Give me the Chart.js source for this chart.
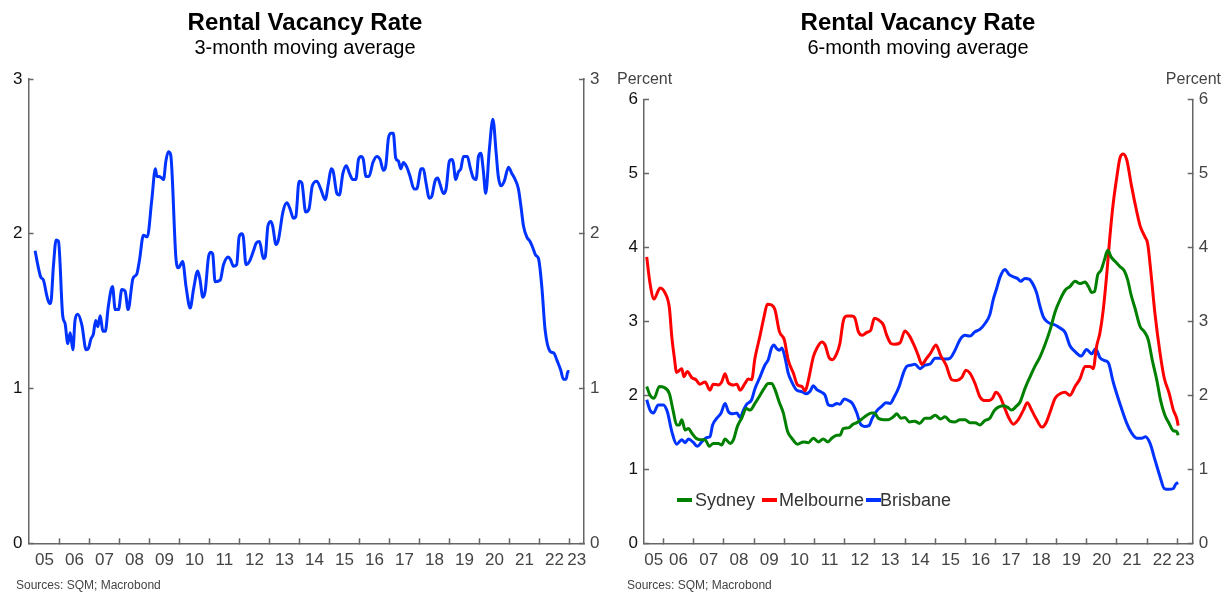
<!DOCTYPE html>
<html>
<head>
<meta charset="utf-8">
<script src="https://cdn.jsdelivr.net/npm/chart.js@4.4.0/dist/chart.umd.min.js"></script>
<style>
    body { margin: 0; background: #fff; font-family: "Liberation Sans", Arial, sans-serif; }
    #page { position: relative; width: 1231px; height: 592px; overflow: hidden; }
    canvas { position: absolute; top: 0; }
    .title { position: absolute; top: 10px; font-size: 24px; line-height: 24px; font-weight: bold; color: #000; white-space: nowrap; transform: translateX(-50%); }
    .sub { position: absolute; top: 37px; font-size: 20px; line-height: 20px; color: #000; white-space: nowrap; transform: translateX(-50%); }
    .unit { position: absolute; top: 71px; font-size: 16px; line-height: 16px; color: #444; white-space: nowrap; }
    .src { position: absolute; top: 579px; font-size: 12px; line-height: 12px; color: #444; white-space: nowrap; }
    .legSample { position: absolute; top: 498px; width: 15px; height: 4px; }
    .legText { position: absolute; top: 491px; font-size: 18px; line-height: 18px; color: #333; white-space: nowrap; }
</style>
</head>
<body>
<div id="page">
    <canvas id="leftChart" width="615" height="592" style="left:0"></canvas>
    <canvas id="rightChart" width="616" height="592" style="left:615px"></canvas>

    <div class="title" style="left:305px">Rental Vacancy Rate</div>
    <div class="sub" style="left:305px">3-month moving average</div>
    <div class="title" style="left:918px">Rental Vacancy Rate</div>
    <div class="sub" style="left:918px">6-month moving average</div>

    <div class="unit" style="left:617px">Percent</div>
    <div class="unit" style="right:10px">Percent</div>

    <div class="src" style="left:16px">Sources: SQM; Macrobond</div>
    <div class="src" style="left:627px">Sources: SQM; Macrobond</div>
    <div id="legend"></div>
</div>
<script>
// year labels under the x axis
var labelYears = [2005, 2006, 2007, 2008, 2009, 2010, 2011, 2012, 2013, 2014,
    2015, 2016, 2017, 2018, 2019, 2020, 2021, 2022, 2023];
var yearLabels = ['05', '06', '07', '08', '09', '10', '11', '12', '13', '14',
    '15', '16', '17', '18', '19', '20', '21', '22', '23'];

// left chart: 3-month moving average (national)
var leftYears = [2005.19, 2005.30, 2005.38, 2005.47, 2005.58, 2005.67, 2005.71, 2005.80, 2005.89, 2005.97,
    2006.11, 2006.19, 2006.28, 2006.36, 2006.45, 2006.52, 2006.61, 2006.75, 2006.89, 2006.97,
    2007.05, 2007.13, 2007.21, 2007.28, 2007.36, 2007.45, 2007.53, 2007.63, 2007.77, 2007.86,
    2007.97, 2008.08, 2008.19, 2008.29, 2008.45, 2008.58, 2008.67, 2008.80, 2008.93, 2009.08,
    2009.20, 2009.25, 2009.32, 2009.41, 2009.47, 2009.55, 2009.63, 2009.71, 2009.89, 2009.97,
    2010.11, 2010.22, 2010.36, 2010.47, 2010.61, 2010.69, 2010.78, 2010.86, 2010.97, 2011.05,
    2011.11, 2011.19, 2011.36, 2011.47, 2011.63, 2011.71, 2011.80, 2011.91, 2011.99, 2012.08,
    2012.13, 2012.22, 2012.33, 2012.47, 2012.56, 2012.67, 2012.80, 2012.86, 2012.95, 2013.05,
    2013.11, 2013.22, 2013.30, 2013.45, 2013.58, 2013.69, 2013.80, 2013.88, 2013.99, 2014.08,
    2014.21, 2014.32, 2014.43, 2014.58, 2014.71, 2014.86, 2014.97, 2015.06, 2015.13, 2015.25,
    2015.33, 2015.45, 2015.56, 2015.67, 2015.78, 2015.88, 2015.97, 2016.06, 2016.13, 2016.22,
    2016.32, 2016.45, 2016.58, 2016.69, 2016.80, 2016.88, 2016.97, 2017.06, 2017.13, 2017.21,
    2017.30, 2017.38, 2017.47, 2017.58, 2017.69, 2017.82, 2017.91, 2018.06, 2018.13, 2018.22,
    2018.33, 2018.41, 2018.52, 2018.61, 2018.69, 2018.80, 2018.89, 2019.00, 2019.08, 2019.13,
    2019.21, 2019.30, 2019.38, 2019.47, 2019.60, 2019.69, 2019.80, 2019.89, 2019.97, 2020.05,
    2020.13, 2020.21, 2020.33, 2020.45, 2020.56, 2020.63, 2020.72, 2020.83, 2020.97, 2021.08,
    2021.17, 2021.30, 2021.39, 2021.47, 2021.58, 2021.69, 2021.78, 2021.88, 2021.97, 2022.08,
    2022.19, 2022.36, 2022.48, 2022.59, 2022.71, 2022.80, 2022.89, 2022.95, 2023.00];
var leftRate = [1.89, 1.78, 1.72, 1.70, 1.60, 1.55, 1.55, 1.79, 1.96, 1.95,
    1.47, 1.42, 1.29, 1.36, 1.25, 1.44, 1.48, 1.41, 1.25, 1.26,
    1.32, 1.35, 1.44, 1.40, 1.47, 1.37, 1.37, 1.53, 1.66, 1.51,
    1.51, 1.64, 1.63, 1.51, 1.71, 1.74, 1.83, 1.99, 1.98, 2.22,
    2.42, 2.37, 2.37, 2.36, 2.35, 2.47, 2.53, 2.51, 1.83, 1.78,
    1.82, 1.66, 1.52, 1.64, 1.76, 1.70, 1.59, 1.63, 1.85, 1.88,
    1.87, 1.69, 1.70, 1.80, 1.85, 1.83, 1.79, 1.80, 1.98, 2.00,
    1.98, 1.80, 1.82, 1.89, 1.94, 1.95, 1.84, 1.85, 2.05, 2.08,
    2.05, 1.93, 1.96, 2.14, 2.20, 2.16, 2.10, 2.11, 2.34, 2.33,
    2.14, 2.16, 2.31, 2.34, 2.29, 2.22, 2.33, 2.42, 2.40, 2.26,
    2.25, 2.39, 2.44, 2.39, 2.35, 2.35, 2.48, 2.50, 2.48, 2.37,
    2.37, 2.46, 2.50, 2.48, 2.41, 2.44, 2.62, 2.65, 2.65, 2.49,
    2.47, 2.42, 2.46, 2.43, 2.37, 2.29, 2.29, 2.42, 2.42, 2.33,
    2.23, 2.24, 2.34, 2.36, 2.32, 2.26, 2.29, 2.47, 2.48, 2.46,
    2.35, 2.40, 2.42, 2.50, 2.50, 2.43, 2.36, 2.35, 2.50, 2.52,
    2.41, 2.26, 2.54, 2.74, 2.52, 2.37, 2.31, 2.34, 2.43, 2.39,
    2.36, 2.29, 2.17, 2.05, 1.98, 1.95, 1.91, 1.86, 1.84, 1.66,
    1.38, 1.24, 1.23, 1.18, 1.12, 1.06, 1.06, 1.11, 1.11];

// right chart: 6-month moving average by city
var sydYears = [2005.45, 2005.56, 2005.69, 2005.87, 2006.00, 2006.20, 2006.33, 2006.44, 2006.53, 2006.61,
    2006.72, 2006.83, 2006.94, 2007.08, 2007.21, 2007.38, 2007.52, 2007.65, 2007.82, 2007.93,
    2008.04, 2008.21, 2008.32, 2008.45, 2008.59, 2008.74, 2008.87, 2009.03, 2009.20, 2009.33,
    2009.47, 2009.58, 2009.69, 2009.84, 2009.97, 2010.11, 2010.25, 2010.44, 2010.63, 2010.80,
    2010.96, 2011.13, 2011.29, 2011.44, 2011.57, 2011.74, 2011.84, 2011.95, 2012.12, 2012.28,
    2012.40, 2012.54, 2012.73, 2012.89, 2012.98, 2013.11, 2013.28, 2013.44, 2013.61, 2013.72,
    2013.86, 2013.99, 2014.14, 2014.32, 2014.47, 2014.66, 2014.82, 2014.99, 2015.17, 2015.32,
    2015.48, 2015.65, 2015.81, 2015.98, 2016.14, 2016.31, 2016.47, 2016.64, 2016.80, 2016.94,
    2017.08, 2017.25, 2017.38, 2017.52, 2017.67, 2017.80, 2017.96, 2018.13, 2018.29, 2018.46,
    2018.62, 2018.79, 2018.96, 2019.12, 2019.29, 2019.45, 2019.62, 2019.78, 2019.95, 2020.06,
    2020.17, 2020.26, 2020.37, 2020.48, 2020.59, 2020.70, 2020.81, 2020.94, 2021.10, 2021.25,
    2021.36, 2021.47, 2021.60, 2021.77, 2021.91, 2022.04, 2022.17, 2022.32, 2022.46, 2022.59,
    2022.73, 2022.87, 2022.98, 2023.03];
var sydRate = [2.12, 2.00, 1.96, 2.12, 2.11, 2.02, 1.78, 1.60, 1.60, 1.67,
    1.53, 1.55, 1.49, 1.42, 1.40, 1.40, 1.31, 1.35, 1.35, 1.33,
    1.41, 1.35, 1.40, 1.58, 1.69, 1.82, 1.80, 1.89, 2.00, 2.09,
    2.16, 2.16, 2.08, 1.90, 1.76, 1.51, 1.42, 1.34, 1.37, 1.36,
    1.42, 1.37, 1.41, 1.37, 1.42, 1.46, 1.46, 1.55, 1.56, 1.61,
    1.63, 1.67, 1.73, 1.76, 1.76, 1.69, 1.67, 1.67, 1.71, 1.75,
    1.69, 1.70, 1.64, 1.65, 1.62, 1.69, 1.69, 1.73, 1.68, 1.71,
    1.65, 1.64, 1.67, 1.67, 1.63, 1.63, 1.60, 1.66, 1.69, 1.79,
    1.84, 1.86, 1.84, 1.80, 1.85, 1.91, 2.09, 2.25, 2.39, 2.52,
    2.68, 2.88, 3.13, 3.29, 3.42, 3.47, 3.54, 3.51, 3.53, 3.47,
    3.39, 3.40, 3.63, 3.69, 3.83, 3.96, 3.87, 3.81, 3.74, 3.68,
    3.56, 3.36, 3.18, 2.93, 2.86, 2.75, 2.48, 2.21, 1.91, 1.73,
    1.62, 1.52, 1.51, 1.46];

var melYears = [2005.45, 2005.56, 2005.69, 2005.89, 2006.06, 2006.20, 2006.28, 2006.36, 2006.44, 2006.61,
    2006.68, 2006.79, 2006.94, 2007.08, 2007.21, 2007.38, 2007.54, 2007.65, 2007.82, 2007.93,
    2008.04, 2008.15, 2008.32, 2008.43, 2008.54, 2008.70, 2008.81, 2008.92, 2009.03, 2009.20,
    2009.33, 2009.44, 2009.58, 2009.69, 2009.84, 2010.00, 2010.13, 2010.30, 2010.44, 2010.58,
    2010.69, 2010.80, 2010.96, 2011.07, 2011.24, 2011.35, 2011.48, 2011.59, 2011.74, 2011.84,
    2011.95, 2012.07, 2012.23, 2012.34, 2012.45, 2012.58, 2012.73, 2012.86, 2012.98, 2013.11,
    2013.28, 2013.39, 2013.53, 2013.66, 2013.83, 2013.99, 2014.13, 2014.30, 2014.43, 2014.55,
    2014.71, 2014.84, 2015.02, 2015.17, 2015.35, 2015.54, 2015.70, 2015.87, 2016.01, 2016.14,
    2016.31, 2016.47, 2016.61, 2016.78, 2016.89, 2017.00, 2017.14, 2017.27, 2017.41, 2017.58,
    2017.74, 2017.91, 2018.04, 2018.18, 2018.35, 2018.52, 2018.66, 2018.79, 2018.96, 2019.12,
    2019.29, 2019.45, 2019.62, 2019.78, 2019.95, 2020.12, 2020.22, 2020.33, 2020.44, 2020.55,
    2020.67, 2020.77, 2020.88, 2021.00, 2021.10, 2021.21, 2021.33, 2021.49, 2021.66, 2021.77,
    2021.93, 2022.02, 2022.13, 2022.26, 2022.43, 2022.57, 2022.73, 2022.87, 2022.98, 2023.03];
var melRate = [3.87, 3.51, 3.30, 3.45, 3.38, 3.18, 2.79, 2.52, 2.31, 2.36,
    2.25, 2.32, 2.24, 2.21, 2.15, 2.18, 2.07, 2.15, 2.14, 2.18,
    2.29, 2.17, 2.14, 2.15, 2.07, 2.16, 2.22, 2.21, 2.50, 2.81,
    3.06, 3.23, 3.22, 3.16, 2.86, 2.75, 2.48, 2.30, 2.14, 2.12,
    2.06, 2.21, 2.52, 2.63, 2.72, 2.68, 2.51, 2.48, 2.57, 2.70,
    3.00, 3.07, 3.07, 3.04, 2.86, 2.81, 2.85, 2.88, 3.04, 3.02,
    2.95, 2.81, 2.70, 2.69, 2.71, 2.87, 2.81, 2.67, 2.54, 2.42,
    2.50, 2.57, 2.68, 2.54, 2.41, 2.21, 2.20, 2.24, 2.34, 2.30,
    2.16, 1.98, 1.93, 1.93, 1.96, 2.04, 1.98, 1.85, 1.71, 1.61,
    1.67, 1.80, 1.90, 1.80, 1.67, 1.57, 1.63, 1.77, 1.96, 2.02,
    2.04, 2.00, 2.12, 2.22, 2.39, 2.39, 2.36, 2.66, 2.84, 3.15,
    3.65, 4.14, 4.59, 4.95, 5.20, 5.26, 5.18, 4.82, 4.48, 4.29,
    4.14, 4.05, 3.65, 3.11, 2.57, 2.23, 2.03, 1.80, 1.69, 1.59];

var brisYears = [2005.45, 2005.56, 2005.67, 2005.83, 2006.00, 2006.13, 2006.28, 2006.44, 2006.61, 2006.72,
    2006.83, 2007.00, 2007.12, 2007.27, 2007.44, 2007.54, 2007.63, 2007.77, 2007.91, 2008.04,
    2008.15, 2008.30, 2008.43, 2008.54, 2008.65, 2008.76, 2008.92, 2009.03, 2009.20, 2009.36,
    2009.47, 2009.58, 2009.66, 2009.75, 2009.84, 2009.92, 2010.03, 2010.13, 2010.25, 2010.41,
    2010.58, 2010.71, 2010.85, 2010.96, 2011.07, 2011.24, 2011.35, 2011.46, 2011.59, 2011.74,
    2011.84, 2011.99, 2012.12, 2012.25, 2012.40, 2012.51, 2012.65, 2012.80, 2012.91, 2013.06,
    2013.22, 2013.36, 2013.50, 2013.64, 2013.80, 2013.94, 2014.05, 2014.22, 2014.32, 2014.49,
    2014.66, 2014.82, 2014.99, 2015.15, 2015.32, 2015.48, 2015.65, 2015.81, 2015.98, 2016.14,
    2016.31, 2016.47, 2016.64, 2016.80, 2016.91, 2017.03, 2017.14, 2017.30, 2017.44, 2017.58,
    2017.71, 2017.82, 2017.96, 2018.10, 2018.24, 2018.35, 2018.46, 2018.57, 2018.68, 2018.79,
    2018.96, 2019.12, 2019.29, 2019.45, 2019.62, 2019.82, 2020.00, 2020.17, 2020.30, 2020.44,
    2020.59, 2020.72, 2020.88, 2021.10, 2021.33, 2021.49, 2021.66, 2021.82, 2021.95, 2022.10,
    2022.26, 2022.43, 2022.57, 2022.73, 2022.87, 2022.95, 2023.03];
var brisRate = [1.94, 1.80, 1.76, 1.87, 1.87, 1.78, 1.51, 1.34, 1.40, 1.36,
    1.41, 1.36, 1.31, 1.37, 1.43, 1.44, 1.60, 1.69, 1.76, 1.89,
    1.78, 1.75, 1.76, 1.70, 1.80, 1.88, 1.94, 2.09, 2.25, 2.41,
    2.48, 2.64, 2.68, 2.63, 2.61, 2.64, 2.50, 2.30, 2.18, 2.07,
    2.05, 2.02, 2.05, 2.13, 2.08, 2.04, 2.00, 1.87, 1.86, 1.89,
    1.88, 1.95, 1.93, 1.89, 1.76, 1.62, 1.58, 1.59, 1.69, 1.79,
    1.85, 1.90, 1.89, 1.98, 2.12, 2.30, 2.39, 2.41, 2.42, 2.36,
    2.41, 2.42, 2.50, 2.50, 2.49, 2.50, 2.61, 2.75, 2.81, 2.80,
    2.86, 2.89, 2.97, 3.09, 3.29, 3.45, 3.60, 3.70, 3.63, 3.60,
    3.58, 3.54, 3.58, 3.57, 3.49, 3.38, 3.20, 3.06, 3.00, 2.97,
    2.95, 2.91, 2.85, 2.67, 2.59, 2.53, 2.62, 2.56, 2.63, 2.51,
    2.47, 2.44, 2.18, 1.89, 1.62, 1.49, 1.42, 1.42, 1.44, 1.35,
    1.13, 0.90, 0.74, 0.73, 0.74, 0.80, 0.82];

var cityNames = ['Sydney', 'Melbourne', 'Brisbane'];
var cityColors = ['#008000', '#ff0000', '#0033ff'];

function toPoints(xs, ys) {
    var pts = [];
    for (var i = 0; i < xs.length; i++) {
        pts.push({x: xs[i], y: ys[i]});
    }
    return pts;
}

// integer years get a tick mark, the middle of each (visible) year gets the label
function buildYearTicks(scale) {
    var ticks = [];
    for (var i = 0; i < labelYears.length; i++) {
        var y = labelYears[i];
        var a = Math.max(y, scale.min);
        var b = Math.min(y + 1, scale.max);
        if (b - a < 0.2) continue;
        ticks.push({value: (a + b) / 2, name: yearLabels[i]});
        if (y + 1 < scale.max) ticks.push({value: y + 1});
    }
    scale.ticks = ticks;
}

function xAxis(min, max) {
    return {
        type: 'linear',
        min: min,
        max: max,
        afterBuildTicks: buildYearTicks,
        afterFit: function (scale) { scale.height = 48.7; },
        ticks: {
            autoSkip: false,
            maxRotation: 0,
            padding: 12,
            color: '#444',
            font: {family: 'Liberation Sans', size: 17},
            callback: function (value, index, ticks) { return ticks[index].name || ''; }
        },
        grid: {
            drawOnChartArea: false,
            tickLength: -5,
            tickWidth: 1.5,
            tickColor: function (ctx) { return ctx.tick && ctx.tick.name ? 'rgba(0,0,0,0)' : '#666'; }
        },
        border: {color: '#666', width: 1.5}
    };
}

function yAxis(side, max, width, color) {
    return {
        type: 'linear',
        position: side,
        min: 0,
        max: max,
        afterFit: function (scale) { scale.width = width; },
        ticks: {
            stepSize: 1,
            padding: 11,
            color: color,
            font: {family: 'Liberation Sans', size: 17}
        },
        grid: {drawOnChartArea: false, tickLength: -5, tickWidth: 1.5, tickColor: '#666'},
        border: {color: '#666', width: 1.5}
    };
}

function lineSet(label, color, xs, ys) {
    return {
        label: label,
        data: toPoints(xs, ys),
        borderColor: color,
        backgroundColor: color,
        borderWidth: 3,
        pointRadius: 0,
        cubicInterpolationMode: 'monotone',
        borderJoinStyle: 'round'
    };
}

var commonPlugins = {legend: {display: false}, tooltip: {enabled: false}};

var oLeftChart = new Chart(document.getElementById('leftChart'), {
    type: 'line',
    data: {datasets: [lineSet('Australia', '#0033ff', leftYears, leftRate)]},
    options: {
        responsive: false,
        animation: false,
        devicePixelRatio: 1,
        layout: {padding: {top: 79, left: 0, right: 0, bottom: 0}},
        scales: {
            x: xAxis(2004.97, 2023.487),
            y: yAxis('left', 3, 28.5, '#111'),
            y2: yAxis('right', 3, 31, '#444')
        },
        plugins: commonPlugins
    }
});

var oRightChart = new Chart(document.getElementById('rightChart'), {
    type: 'line',
    data: {
        datasets: [
            lineSet(cityNames[0], cityColors[0], sydYears, sydRate),
            lineSet(cityNames[1], cityColors[1], melYears, melRate),
            lineSet(cityNames[2], cityColors[2], brisYears, brisRate)
        ]
    },
    options: {
        responsive: false,
        animation: false,
        devicePixelRatio: 1,
        layout: {padding: {top: 99.3, left: 0, right: 0, bottom: 0}},
        scales: {
            x: xAxis(2005.36, 2023.51),
            y: yAxis('left', 6, 29, '#111'),
            y2: yAxis('right', 6, 38.3, '#444')
        },
        plugins: commonPlugins
    }
});

// legend inside the right plot
var sampleLeft = [677, 762, 866];
var textLeft = [695, 779, 880];
var eLegend = document.getElementById('legend');
for (var i = 0; i < cityNames.length; i++) {
    var s = document.createElement('div');
    s.className = 'legSample';
    s.style.left = sampleLeft[i] + 'px';
    s.style.background = cityColors[i];
    eLegend.appendChild(s);
    var t = document.createElement('div');
    t.className = 'legText';
    t.style.left = textLeft[i] + 'px';
    t.textContent = cityNames[i];
    eLegend.appendChild(t);
}
</script>
</body>
</html>
